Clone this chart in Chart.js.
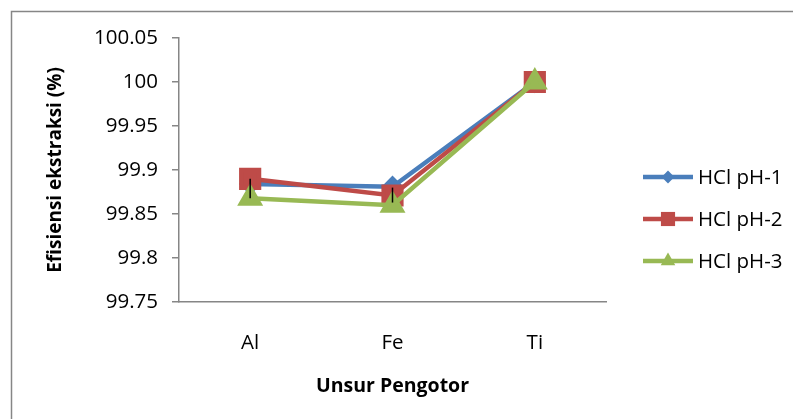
<!DOCTYPE html>
<html>
<head>
<meta charset="utf-8">
<script src="https://cdn.jsdelivr.net/npm/chart.js@4.4.1/dist/chart.umd.min.js"></script>
<style>
  html, body { margin: 0; padding: 0; background: #fff; }
  #wrap { width: 793px; height: 419px; position: relative; }
</style>
</head>
<body>
<div id="wrap"><canvas id="lineChart"></canvas></div>
<script>
// Data
const categories = ['Al', 'Fe', 'Ti'];
const seriesNames = ['HCl pH-1', 'HCl pH-2', 'HCl pH-3'];
const ph1Values = [99.884, 99.881, 100];
const ph2Values = [99.890, 99.871, 100];
const ph3Values = [99.868, 99.860, 100];
// black error bars seen at Al and Fe
const errLow = [99.868, 99.863, null];
const errHigh = [99.890, 99.880, null];
const yTicks = [99.75, 99.8, 99.85, 99.9, 99.95, 100, 100.05];

const FONT = "'Open Sans', 'Liberation Sans', sans-serif";
const AXIS_GREY = '#868686';

// outer chart frame
const framePlugin = {
    id: 'frame',
    beforeDraw(chart) {
        const ctx = chart.ctx;
        ctx.save();
        ctx.strokeStyle = AXIS_GREY;
        ctx.lineWidth = 1.5;
        ctx.strokeRect(11.5, 11.5, chart.width + 20, chart.height + 20);
        ctx.restore();
    }
};

// vertical error bars drawn through the scales
const errorBarPlugin = {
    id: 'errorBars',
    afterDatasetsDraw(chart) {
        const ctx = chart.ctx;
        const x = chart.scales.x, y = chart.scales.y;
        ctx.save();
        ctx.strokeStyle = '#000';
        ctx.lineWidth = 1.5;
        errLow.forEach((lo, i) => {
            if (lo === null) return;
            const px = x.getPixelForValue(i);
            ctx.beginPath();
            ctx.moveTo(px, y.getPixelForValue(lo));
            ctx.lineTo(px, y.getPixelForValue(errHigh[i]));
            ctx.stroke();
        });
        ctx.restore();
    }
};

// legend with line + marker, like the office chart
const lineLegendPlugin = {
    id: 'lineLegend',
    afterDraw(chart) {
        const ctx = chart.ctx;
        const area = chart.chartArea;
        const x0 = area.right + 37;
        const startY = area.top + 139;
        ctx.save();
        chart.data.datasets.forEach((ds, i) => {
            const cy = startY + i * 42;
            ctx.strokeStyle = ds.borderColor;
            ctx.lineWidth = ds.borderWidth;
            ctx.beginPath();
            ctx.moveTo(x0, cy);
            ctx.lineTo(x0 + 50, cy);
            ctx.stroke();
            ctx.fillStyle = ds.pointBackgroundColor;
            ctx.strokeStyle = ds.pointBackgroundColor;
            Chart.helpers.drawPoint(ctx, {
                pointStyle: ds.pointStyle,
                radius: ds.pointRadius * 0.8,
                rotation: 0,
                borderWidth: 0
            }, x0 + 25, cy);
            ctx.fillStyle = '#000';
            ctx.font = '20.5px ' + FONT;
            ctx.textBaseline = 'middle';
            ctx.fillText(ds.label, x0 + 55, cy + 1);
        });
        ctx.restore();
    }
};

function makeSet(label, data, color, style, radius, order) {
    return {
        label: label,
        data: data,
        order: order,
        borderColor: color,
        backgroundColor: color,
        pointBackgroundColor: color,
        pointBorderColor: color,
        pointStyle: style,
        pointRadius: radius,
        pointHoverRadius: radius,
        borderWidth: 4.5,
        tension: 0,
        fill: false
    };
}

document.addEventListener('DOMContentLoaded', function() {
    const ctx = document.getElementById('lineChart').getContext('2d');
    new Chart(ctx, {
        type: 'line',
        data: {
            labels: categories,
            datasets: [
                makeSet(seriesNames[0], ph1Values, '#4a7ebb', 'rectRot', 8, 3),
                makeSet(seriesNames[1], ph2Values, '#be4b48', 'rect', 12.5, 2),
                makeSet(seriesNames[2], ph3Values, '#98b954', 'triangle', 10.5, 1)
            ]
        },
        options: {
            responsive: true,
            maintainAspectRatio: false,
            animation: false,
            layout: { padding: { left: 0, right: 187, top: 38, bottom: 0 } },
            plugins: {
                legend: { display: false },
                tooltip: { enabled: false }
            },
            scales: {
                x: {
                    offset: true,
                    afterFit(scale) { scale.height = 117; },
                    grid: { display: false, drawTicks: false },
                    border: { display: true, color: AXIS_GREY, width: 1.5 },
                    ticks: { color: '#000', padding: 29, font: { family: FONT, size: 20.5 } },
                    title: {
                        display: true,
                        text: 'Unsur Pengotor',
                        color: '#000',
                        padding: { top: 0, bottom: 21 },
                        font: { family: FONT, size: 19.5, weight: 'bold' }
                    }
                },
                y: {
                    min: 99.75,
                    max: 100.05,
                    afterFit(scale) { scale.width = 179; },
                    afterBuildTicks(scale) { scale.ticks = yTicks.map(v => ({ value: v })); },
                    grid: { drawOnChartArea: false, drawTicks: true, tickLength: 7, color: AXIS_GREY, lineWidth: 1.5 },
                    border: { display: true, color: AXIS_GREY, width: 1.5 },
                    ticks: {
                        color: '#000',
                        padding: 14,
                        font: { family: FONT, size: 20.5 },
                        callback: v => String(Number(v.toFixed(2)))
                    },
                    title: {
                        display: true,
                        text: 'Efisiensi ekstraksi (%)',
                        color: '#000',
                        padding: { top: 44, bottom: 0 },
                        font: { family: FONT, size: 19, weight: 'bold' }
                    }
                }
            }
        },
        plugins: [framePlugin, errorBarPlugin, lineLegendPlugin]
    });
});
</script>
</body>
</html>
